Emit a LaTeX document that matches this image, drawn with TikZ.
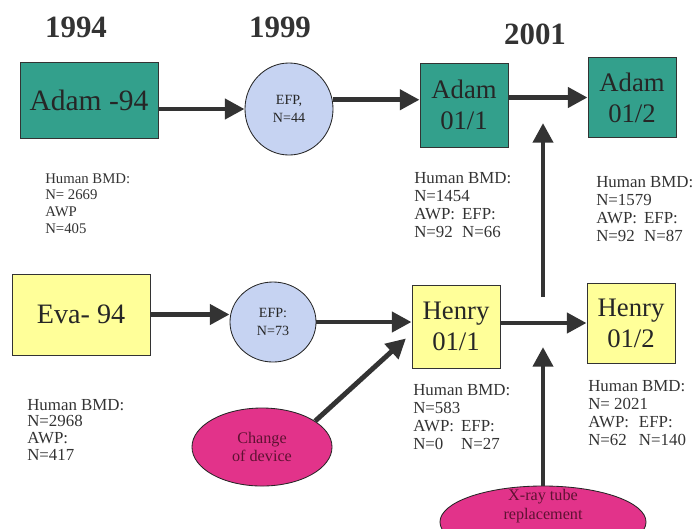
\documentclass[tikz,border=0pt]{standalone}
\usepackage{fontspec}
\setmainfont{Liberation Serif}
\usepackage{tikz}
\usetikzlibrary{arrows.meta, positioning, shapes.geometric}

\definecolor{adamteal}{HTML}{33A08C}
\definecolor{evayellow}{HTML}{FFFF99}
\definecolor{efpblue}{HTML}{C6D3F2}
\definecolor{eventpink}{HTML}{E2338A}
\definecolor{eventtext}{HTML}{5E1232}
\definecolor{arrowgray}{HTML}{333333}

\begin{document}
\begin{tikzpicture}[x=0.025cm, y=-0.025cm,
                year/.style={font=\fontsize{22}{24}\selectfont\bfseries, text=black!80},
                adambox/.style={draw=black!80, line width=0.6pt, fill=adamteal, inner sep=0pt, align=center, text=black!85},
                evabox/.style={draw=black!80, line width=0.6pt, fill=evayellow, inner sep=0pt, align=center, text=black!85},
                efp/.style={ellipse, draw=black!85, line width=0.6pt, fill=efpblue, inner sep=0pt, align=center, text=black!85, font=\fontsize{10}{13}\selectfont},
                event/.style={ellipse, draw=black!85, line width=0.6pt, fill=eventpink, inner sep=0pt, align=center, text=eventtext, font=\fontsize{11.5}{13}\selectfont},
                stats/.style={inner sep=0pt, anchor=north west, text=black!80, font=\fontsize{12}{12.8}\selectfont},
                arrow/.style={-{Triangle[length=14pt, width=14pt]}, line width=3.5pt, draw=arrowgray}
            ]
            \useasboundingbox (0,0) rectangle (694,528);

            % Years
            \node[year] (y1994) at (76,27) {1994};
            \node[year] (y1999) at (280,27) {1999};
            \node[year] (y2001) at (535,34) {2001};

            % Adam row
            \node[adambox, minimum width=3.45cm, minimum height=1.9cm, font=\fontsize{21}{24}\selectfont] (adam94) at (89,100) {Adam -94};
            \node[efp, minimum width=2.2cm, minimum height=2.3cm] (efp44) at (289,109) {EFP,\\N=44};
            \node[adambox, minimum width=2.2cm, minimum height=2.1cm, font=\fontsize{19}{22}\selectfont] (adam011) at (464,105) {Adam\\01/1};
            \node[adambox, minimum width=2.2cm, minimum height=2cm, font=\fontsize{19}{22}\selectfont] (adam012) at (632,97.5) {Adam\\01/2};

            % Eva / Henry row
            \node[evabox, minimum width=3.45cm, minimum height=2.025cm, font=\fontsize{20}{24}\selectfont] (eva94) at (81,314.5) {Eva- 94};
            \node[efp, minimum width=2.15cm, minimum height=2cm] (efp73) at (273,322) {EFP:\\N=73};
            \node[evabox, minimum width=2.2cm, minimum height=2.075cm, font=\fontsize{19}{22}\selectfont] (henry011) at (456,326.5) {Henry\\01/1};
            \node[evabox, minimum width=2.2cm, minimum height=2cm, font=\fontsize{19}{22}\selectfont] (henry012) at (631,323) {Henry\\01/2};

            % Events
            \node[event, minimum width=3.5cm, minimum height=1.95cm] (change) at (262,447) {Change\\of device};
            \node[event, minimum width=5.15cm, minimum height=1.8cm] (xray) at (543,522) {};
            \node[font=\fontsize{11.5}{14}\selectfont, text=eventtext, align=center] (xraytext) at (543,506) {X-ray tube\\replacement};

            % Numbers
            \node[stats, font=\fontsize{10.5}{12}\selectfont] (stat94a) at (45,171) {\begin{tabular}{@{}l@{}}Human BMD:\\ N= 2669\\ AWP\\ N=405\end{tabular}};
            \node[stats, font=\fontsize{12}{12}\selectfont] (stat94e) at (27,398) {\begin{tabular}{@{}l@{}}Human BMD:\\ N=2968\\ AWP:\\ N=417\end{tabular}};
            \node[stats] (stata1) at (414,170.5) {\begin{tabular}{@{}l@{\hspace{5pt}}l@{}}\multicolumn{2}{@{}l@{}}{Human BMD:}\\ \multicolumn{2}{@{}l@{}}{N=1454}\\ AWP: & EFP:\\ N=92 & N=66\end{tabular}};
            \node[stats] (stata2) at (596,174.5) {\begin{tabular}{@{}l@{\hspace{5pt}}l@{}}\multicolumn{2}{@{}l@{}}{Human BMD:}\\ \multicolumn{2}{@{}l@{}}{N=1579}\\ AWP: & EFP:\\ N=92 & N=87\end{tabular}};
            \node[stats] (stath1) at (413,382.5) {\begin{tabular}{@{}l@{\hspace{5pt}}l@{}}\multicolumn{2}{@{}l@{}}{Human BMD:}\\ \multicolumn{2}{@{}l@{}}{N=583}\\ AWP: & EFP:\\ N=0 & N=27\end{tabular}};
            \node[stats] (stath2) at (588,378.5) {\begin{tabular}{@{}l@{\hspace{7pt}}l@{}}\multicolumn{2}{@{}l@{}}{Human BMD:}\\ \multicolumn{2}{@{}l@{}}{N= 2021}\\ AWP: & EFP:\\ N=62 & N=140\end{tabular}};

            % Free arrow ends
            \coordinate (upfoot) at (543,297);
            \coordinate (uphead) at (543,123);
            \coordinate (xhead) at (543,347);

            % Arrows
            \draw[arrow] (adam94.east |- efp44) -- (efp44);
            \draw[arrow] (efp44.12) -- (efp44.12 -| adam011.west);
            \draw[arrow] (adam011.east |- adam012) -- (adam012.west);
            \draw[arrow] (upfoot) -- (uphead);
            \draw[arrow] (eva94.east) -- (eva94.east -| efp73.west);
            \draw[arrow] (efp73.east) -- (efp73.east -| henry011.west);
            \draw[arrow] (henry011.east |- henry012) -- (henry012.west);
            \draw[arrow] (change.26) -- ([xshift=-4pt]henry011.195);
            \draw[arrow] (xray) -- (xhead);
\end{tikzpicture}
\end{document}
